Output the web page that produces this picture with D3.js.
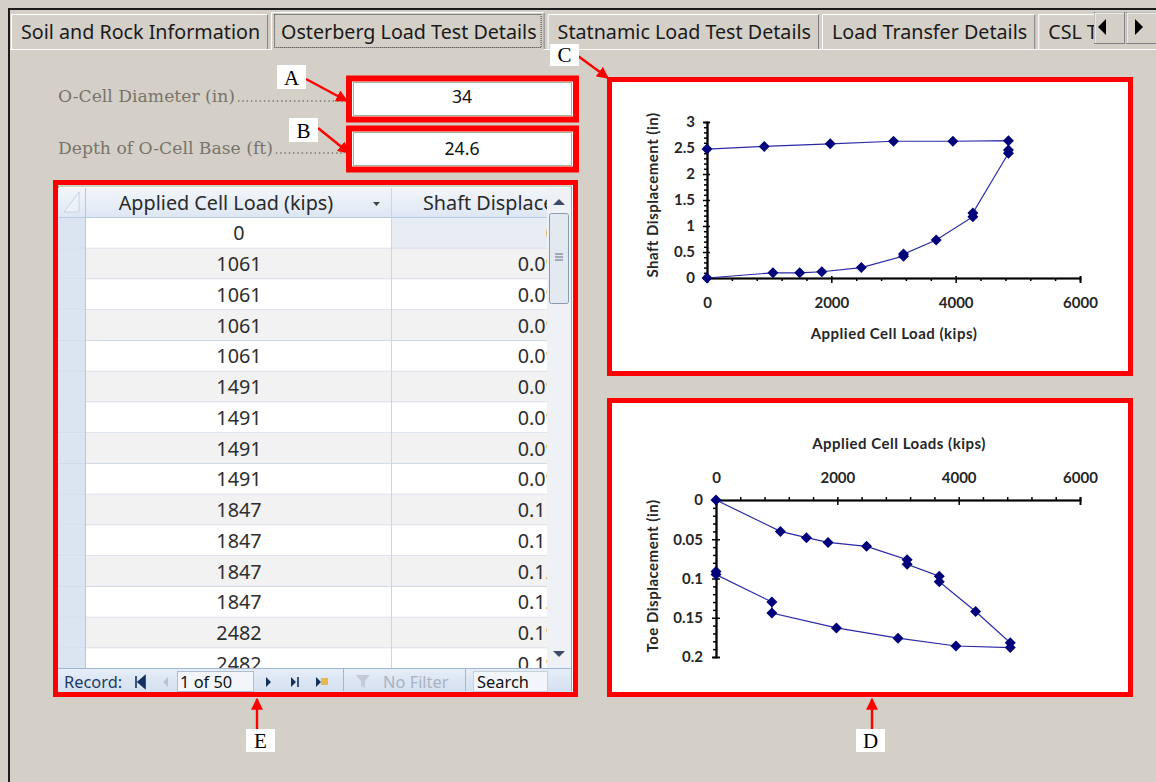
<!DOCTYPE html>
<html><head><meta charset="utf-8">
<script src="https://cdn.jsdelivr.net/npm/d3@7"></script>
<style>body{margin:0;background:#d4d0c8;overflow:hidden} svg{display:block}</style>
</head><body><svg id="c" width="1156" height="782"></svg>
<script>
// ---------- data ----------
const tabLabels = ["Soil and Rock Information", "Osterberg Load Test Details", "Statnamic Load Test Details", "Load Transfer Details", "CSL Test Details"];
const selectedTab = 1;
const formLabels = ["O-Cell Diameter (in)", "Depth of O-Cell Base (ft)"];
const formValues = ["34", "24.6"];
const tableHeaders = ["Applied Cell Load (kips)", "Shaft Displacement (in)"];
const tableLoads = [0, 1061, 1061, 1061, 1061, 1491, 1491, 1491, 1491, 1847, 1847, 1847, 1847, 2482, 2482];
const tableShaft = [0, 0.09, 0.09, 0.09, 0.09, 0.09, 0.09, 0.09, 0.09, 0.11, 0.11, 0.12, 0.12, 0.19, 0.19];
const currentRecord = 1, recordCount = 50;
const calloutLetters = ["A", "B", "C", "D", "E"];

// Shaft displacement vs applied cell load (loading then unloading)
const shaftLoad = [0, 1061, 1491, 1847, 2482, 3161, 3161, 3687, 4277, 4277, 4849, 4849, 4849, 3955, 3000, 1983, 921, 0];
const shaftDisp = [0, 0.10, 0.10, 0.12, 0.20, 0.42, 0.46, 0.73, 1.18, 1.25, 2.40, 2.46, 2.64, 2.63, 2.63, 2.58, 2.53, 2.48];
// Toe displacement vs applied cell load
const toeLoad = [0, 1061, 1491, 1847, 2482, 3150, 3150, 3680, 3680, 4280, 4850, 4850, 3955, 3000, 1985, 921, 921, 0, 0];
const toeDisp = [0, 0.040, 0.048, 0.054, 0.059, 0.076, 0.082, 0.097, 0.104, 0.142, 0.182, 0.188, 0.186, 0.176, 0.163, 0.144, 0.130, 0.095, 0.091];

const loadTicks = [0, 2000, 4000, 6000];
const shaftTicks = [0, 0.5, 1, 1.5, 2, 2.5, 3];
const toeTicks = [0, 0.05, 0.1, 0.15, 0.2];

// ---------- drawing ----------
const svg = d3.select("#c");
const defs = svg.append("defs");
const RED = "#ff0000";
const UI = "Noto Sans";
defs.append("marker").attr("id", "arr").attr("viewBox", "0 0 10 10").attr("refX", 9).attr("refY", 5)
  .attr("markerWidth", 5).attr("markerHeight", 5).attr("orient", "auto-start-reverse").attr("markerUnits", "strokeWidth")
  .append("path").attr("d", "M0,0L10,5L0,10Z").attr("fill", RED);
const hg = defs.append("linearGradient").attr("id", "hdr").attr("x1", 0).attr("x2", 0).attr("y1", 0).attr("y2", 1);
hg.append("stop").attr("offset", 0).attr("stop-color", "#f3f6fb");
hg.append("stop").attr("offset", 1).attr("stop-color", "#dce6f3");
const ng = defs.append("linearGradient").attr("id", "nav").attr("x1", 0).attr("x2", 0).attr("y1", 0).attr("y2", 1);
ng.append("stop").attr("offset", 0).attr("stop-color", "#e6eef8");
ng.append("stop").attr("offset", 1).attr("stop-color", "#d3e0f0");

svg.append("rect").attr("width", 1156).attr("height", 782).attr("fill", "#d4d0c8");
svg.append("line").attr("x1", 8).attr("x2", 1156).attr("y1", 9).attr("y2", 9).attr("stroke", "#1c1c1c").attr("stroke-width", 2);
svg.append("line").attr("x1", 9).attr("x2", 9).attr("y1", 9).attr("y2", 782).attr("stroke", "#1c1c1c").attr("stroke-width", 2);

// tabs
defs.append("clipPath").attr("id", "tabclip").append("rect").attr("x", 0).attr("y", 0).attr("width", 1094).attr("height", 60);
const tabs = svg.append("g").attr("clip-path", "url(#tabclip)");
svg.append("line").attr("x1", 10).attr("x2", 1156).attr("y1", 49.5).attr("y2", 49.5).attr("stroke", "#ffffff");
let tx = 11;
tabLabels.forEach((lab, i) => {
  const g = tabs.append("g");
  const t = g.append("text").attr("x", tx + 10).attr("y", 39).text(lab)
    .attr("font-family", UI).attr("font-size", 19.7).attr("fill", "#1a1a1a");
  const w = t.node().getComputedTextLength() + 18;
  const sel = i === selectedTab;
  const y0 = sel ? 12 : 14;
  g.insert("rect", "text").attr("x", tx).attr("y", y0).attr("width", w).attr("height", 50 - y0).attr("fill", "#d4d0c8");
  g.insert("path", "text").attr("d", `M${tx + 0.5},${50} V${y0 + 0.5} H${tx + w - 1}`).attr("fill", "none").attr("stroke", "#ffffff");
  g.insert("path", "text").attr("d", `M${tx + w - 0.5},${y0 + 1} V${49}`).attr("fill", "none").attr("stroke", "#808080");
  if (sel) {
    g.append("rect").attr("x", tx + 3.5).attr("y", y0 + 2.5).attr("width", w - 7).attr("height", 33)
      .attr("fill", "none").attr("stroke", "#333").attr("stroke-dasharray", "1,1");
    svg.append("line").attr("x1", tx + 1).attr("x2", tx + w - 1).attr("y1", 49.5).attr("y2", 49.5).attr("stroke", "#d4d0c8");
  }
  tx += w + 3;
});
// scroll buttons
[["M1104,19 L1104,35 L1096,27Z", 1094], ["M1137,19 L1137,35 L1145,27Z", 1126]].forEach(([d, x]) => {
  svg.append("rect").attr("x", x + 0.5).attr("y", 12.5).attr("width", 30).attr("height", 31).attr("fill", "#d4d0c8")
    .attr("stroke", "#808080");
  svg.append("path").attr("d", `M${x + 1},43 V13 H${x + 30}`).attr("fill", "none").attr("stroke", "#fff");
  svg.append("path").attr("d", d).attr("transform", `translate(${x === 1094 ? 2 : -2},0)`).attr("fill", "#000");
});

// form fields
const formY = [97, 149];
formLabels.forEach((lab, i) => {
  const t = svg.append("text").attr("x", 58).attr("y", formY[i] + 5).text(lab)
    .attr("font-family", "DejaVu Serif").attr("font-size", 17.2).attr("fill", "#78746a");
  const e = 58 + t.node().getComputedTextLength() + 3;
  svg.append("line").attr("x1", e).attr("x2", 343).attr("y1", formY[i] + 4).attr("y2", formY[i] + 4)
    .attr("stroke", "#78746a").attr("stroke-width", 1.6).attr("stroke-dasharray", "1.4,2.9");
  const by = i === 0 ? 78.5 : 128.5;
  svg.append("rect").attr("x", 349).attr("y", by).attr("width", 227).attr("height", 41)
    .attr("fill", "#fff").attr("stroke", RED).attr("stroke-width", 6);
  svg.append("rect").attr("x", 353.5).attr("y", by + 4).attr("width", 218).attr("height", 33)
    .attr("fill", "#fff").attr("stroke", "#9cb59c").attr("stroke-width", 1);
  svg.append("text").attr("x", 462).attr("y", formY[i] + 6).attr("text-anchor", "middle").text(formValues[i])
    .attr("font-family", UI).attr("font-size", 17.6).attr("fill", "#111");
});

// ---------- table (E) ----------
const T = { x0: 58, x1: 572, top: 188, hdrB: 218, nav: 668, bot: 692, sel: 85, sep: 391, sb: 547 };
const rowH = 30.75;
const TF = 19.8;
svg.append("rect").attr("x", 55.5).attr("y", 182.5).attr("width", 520).attr("height", 512)
  .attr("fill", "#fff").attr("stroke", RED).attr("stroke-width", 5);
svg.append("rect").attr("x", 58.5).attr("y", 186).attr("width", 513).attr("height", 505).attr("fill", "#fff")
  .attr("stroke", "#8fb28f").attr("stroke-width", 1);
defs.append("clipPath").attr("id", "tclip").append("rect").attr("x", T.x0).attr("y", T.top).attr("width", T.sb - T.x0).attr("height", T.nav - T.top);
const tb = svg.append("g").attr("clip-path", "url(#tclip)");
tb.append("rect").attr("x", T.x0).attr("y", T.top).attr("width", 600).attr("height", T.hdrB - T.top).attr("fill", "url(#hdr)");
tb.append("line").attr("x1", T.x0).attr("x2", 600).attr("y1", T.hdrB - 0.5).attr("y2", T.hdrB - 0.5).attr("stroke", "#b9cbe2");
tb.append("path").attr("d", `M${T.sel - 6},${T.top + 4} V${T.hdrB - 6} H${T.x0 + 6}Z`).attr("fill", "#eef2f7").attr("stroke", "#c6d2e2");
const rows = tb.selectAll("g.row").data(tableLoads).join("g").attr("class", "row")
  .attr("transform", (d, i) => `translate(0,${T.hdrB + i * rowH})`);
rows.append("rect").attr("x", T.sel).attr("width", 600).attr("height", rowH)
  .attr("fill", (d, i) => i % 2 ? "#f2f2f2" : "#ffffff");
rows.filter((d, i) => i === currentRecord - 1).append("rect").attr("x", T.sep).attr("width", 300).attr("height", rowH).attr("fill", "#e8ecf3");
rows.append("rect").attr("x", T.x0).attr("width", T.sel - T.x0).attr("height", rowH).attr("fill", "#dbe5f1");
rows.append("line").attr("x1", T.x0).attr("x2", 600).attr("y1", rowH - 0.5).attr("y2", rowH - 0.5).attr("stroke", "#d3dbe7");
rows.append("text").attr("x", 239).attr("y", rowH / 2 + 7).attr("text-anchor", "middle").text(d => d)
  .attr("font-family", UI).attr("font-size", TF).attr("fill", "#2e2e2e");
rows.append("text").attr("x", 557).attr("y", rowH / 2 + 7).attr("text-anchor", "end")
  .text((d, i) => tableShaft[i] === 0 ? "0" : d3.format(".2f")(tableShaft[i]))
  .attr("font-family", UI).attr("font-size", TF).attr("fill", "#2e2e2e");
tb.append("line").attr("x1", T.sep + 0.5).attr("x2", T.sep + 0.5).attr("y1", T.top).attr("y2", T.nav).attr("stroke", "#ccd5e2");
tb.append("line").attr("x1", T.sel + 0.5).attr("x2", T.sel + 0.5).attr("y1", T.top).attr("y2", T.nav).attr("stroke", "#b8c8dc");
tb.append("text").attr("x", 226).attr("y", 210).attr("text-anchor", "middle").text(tableHeaders[0])
  .attr("font-family", UI).attr("font-size", TF).attr("fill", "#2a2a2a");
tb.append("path").attr("d", "M373,202 h7 l-3.5,4Z").attr("fill", "#444");
tb.append("text").attr("x", 423).attr("y", 210).text(tableHeaders[1])
  .attr("font-family", UI).attr("font-size", TF).attr("fill", "#2a2a2a");
// scrollbar
svg.append("rect").attr("x", T.sb).attr("y", T.top).attr("width", 24).attr("height", T.nav - T.top).attr("fill", "#eef1f5");
svg.append("path").attr("d", "M553,205 h12 l-6,-6Z").attr("fill", "#3d4c66");
svg.append("rect").attr("x", 549.5).attr("y", 213.5).attr("width", 19).attr("height", 90).attr("rx", 2)
  .attr("fill", "#e3e9f1").attr("stroke", "#8a9ab2");
[254, 257, 260].forEach(y => svg.append("line").attr("x1", 555).attr("x2", 563).attr("y1", y).attr("y2", y).attr("stroke", "#5a6a80"));
svg.append("path").attr("d", "M553,651 h12 l-6,6Z").attr("fill", "#3d4c66");
// navigation bar
svg.append("rect").attr("x", T.x0).attr("y", T.nav).attr("width", 513).attr("height", T.bot - T.nav).attr("fill", "url(#nav)");
svg.append("line").attr("x1", T.x0).attr("x2", 571).attr("y1", T.nav + 0.5).attr("y2", T.nav + 0.5).attr("stroke", "#9fb6d4");
const navY = 682, NF = 16.4;
svg.append("text").attr("x", 64).attr("y", navY + 6).text("Record:").attr("font-family", UI).attr("font-size", NF).attr("fill", "#1e3a66");
svg.append("path").attr("d", "M136,676v12 M145,676v12l-7,-6Z").attr("stroke", "#14305e").attr("stroke-width", 1.6).attr("fill", "#14305e");
svg.append("path").attr("d", "M168,677v10l-5,-5Z").attr("fill", "#b8c4d6");
svg.append("rect").attr("x", 177.5).attr("y", 671.5).attr("width", 76).attr("height", 20).attr("fill", "#f2f6fb").attr("stroke", "#aebdd3");
svg.append("text").attr("x", 180).attr("y", navY + 6).text(`${currentRecord} of ${recordCount}`).attr("font-family", UI).attr("font-size", NF).attr("fill", "#111");
svg.append("path").attr("d", "M266,677v10l5,-5Z M291,677v10l5,-5Z").attr("fill", "#14305e");
svg.append("path").attr("d", "M298,677v10").attr("stroke", "#14305e").attr("stroke-width", 1.6);
svg.append("path").attr("d", "M316,677v10l5,-5Z").attr("fill", "#14305e");
svg.append("rect").attr("x", 321).attr("y", 678).attr("width", 7).attr("height", 7).attr("fill", "#e8b850");
svg.append("line").attr("x1", 343.5).attr("x2", 343.5).attr("y1", 669).attr("y2", 691).attr("stroke", "#9fb6d4");
svg.append("path").attr("d", "M356,675 h14 l-5,6 v7 l-4,-2 v-5Z").attr("fill", "#c3cbd6");
svg.append("text").attr("x", 383).attr("y", navY + 6).text("No Filter").attr("font-family", UI).attr("font-size", NF).attr("fill", "#a9b2bf");
svg.append("line").attr("x1", 465.5).attr("x2", 465.5).attr("y1", 669).attr("y2", 691).attr("stroke", "#9fb6d4");
svg.append("rect").attr("x", 473.5).attr("y", 671.5).attr("width", 74).attr("height", 20).attr("fill", "#f2f6fb").attr("stroke", "#c4d0e0");
svg.append("text").attr("x", 477).attr("y", navY + 6).text("Search").attr("font-family", UI).attr("font-size", NF).attr("fill", "#111");

// ---------- charts ----------
function chartPanel(y) {
  svg.append("rect").attr("x", 609.5).attr("y", y).attr("width", 521).attr("height", 294)
    .attr("fill", "#fff").attr("stroke", RED).attr("stroke-width", 5);
}
chartPanel(79.5);
chartPanel(400.5);
const diamond = "M0,-5.5L5.5,0L0,5.5L-5.5,0Z";
const FONT = "Lato";
function styleAxis(g) {
  g.select(".domain").attr("stroke", "#000").attr("stroke-width", 1.6);
  g.selectAll(".tick line").attr("stroke", "#000").attr("stroke-width", 1.5);
  g.selectAll("text").attr("font-family", FONT).attr("font-weight", 700).attr("font-size", 15).attr("fill", "#262626");
}
function series(g, x, y, xs, ys) {
  const pts = xs.map((v, i) => [v, ys[i]]);
  g.append("path").datum(pts).attr("fill", "none").attr("stroke", "#2a2aa8").attr("stroke-width", 1.2)
    .attr("d", d3.line().x(d => x(d[0])).y(d => y(d[1])));
  g.selectAll("path.m").data(pts).join("path").attr("class", "m").attr("d", diamond)
    .attr("transform", d => `translate(${x(d[0])},${y(d[1])})`).attr("fill", "#00007a");
}
function minor(step, max, majors) {
  return d3.range(0, max + 1e-9, step).filter(v => !majors.some(m => Math.abs(m - v) < 1e-9));
}
function title(txt, x, y, rot) {
  svg.append("text").attr("transform", `translate(${x},${y})${rot ? " rotate(-90)" : ""}`).attr("text-anchor", "middle").text(txt)
    .attr("font-family", FONT).attr("font-weight", 700).attr("font-size", 15).attr("letter-spacing", 0.5).attr("fill", "#262626");
}

// Chart C: shaft displacement
{
  const x = d3.scaleLinear([0, 6000], [707, 1080]);
  const y = d3.scaleLinear([0, 3], [278, 122]);
  const g = svg.append("g");
  const X0 = 707, Y0 = 278;
  g.append("g").attr("transform", `translate(0,${Y0})`).call(d3.axisBottom(x).tickValues(minor(400, 6000, loadTicks)).tickSize(3).tickFormat("")).call(styleAxis);
  g.append("g").attr("transform", `translate(0,${Y0})`).call(d3.axisTop(x).tickValues(loadTicks).tickSize(2).tickFormat("")).call(styleAxis);
  g.append("g").attr("transform", `translate(0,${Y0})`).call(d3.axisBottom(x).tickValues(loadTicks).tickSize(5).tickPadding(14).tickFormat(d3.format("d"))).call(styleAxis);
  g.append("g").attr("transform", `translate(${X0},0)`).call(d3.axisLeft(y).tickValues(minor(0.1, 3, shaftTicks)).tickSize(3).tickFormat("")).call(styleAxis);
  g.append("g").attr("transform", `translate(${X0},0)`).call(d3.axisRight(y).tickValues(shaftTicks).tickSize(3).tickFormat("")).call(styleAxis);
  g.append("g").attr("transform", `translate(${X0},0)`).call(d3.axisLeft(y).tickValues(shaftTicks).tickSize(4).tickPadding(8).tickFormat(d3.format("~g"))).call(styleAxis);
  series(g, x, y, shaftLoad, shaftDisp);
  title("Applied Cell Load (kips)", 894, 339, false);
  title("Shaft Displacement (in)", 658, 195, true);
}
// Chart D: toe displacement
{
  const x = d3.scaleLinear([0, 6000], [716, 1080]);
  const y = d3.scaleLinear([0, 0.2], [500, 657]);
  const g = svg.append("g");
  const X0 = 716, Y0 = 500;
  g.append("g").attr("transform", `translate(0,${Y0})`).call(d3.axisTop(x).tickValues(minor(400, 6000, loadTicks)).tickSize(3).tickFormat("")).call(styleAxis);
  g.append("g").attr("transform", `translate(0,${Y0})`).call(d3.axisBottom(x).tickValues(loadTicks).tickSize(5).tickFormat("")).call(styleAxis);
  g.append("g").attr("transform", `translate(0,${Y0})`).call(d3.axisTop(x).tickValues(loadTicks).tickSize(3).tickPadding(14).tickFormat(d3.format("d"))).call(styleAxis);
  g.append("g").attr("transform", `translate(${X0},0)`).call(d3.axisLeft(y).tickValues(minor(0.01, 0.2, toeTicks)).tickSize(3).tickFormat("")).call(styleAxis);
  g.append("g").attr("transform", `translate(${X0},0)`).call(d3.axisRight(y).tickValues(toeTicks).tickSize(4).tickFormat("")).call(styleAxis);
  g.append("g").attr("transform", `translate(${X0},0)`).call(d3.axisLeft(y).tickValues(toeTicks).tickSize(4).tickPadding(9).tickFormat(d3.format("~g"))).call(styleAxis);
  series(g, x, y, toeLoad, toeDisp);
  title("Applied Cell Loads (kips)", 899, 449, false);
  title("Toe Displacement (in)", 658, 576, true);
}

// ---------- callouts ----------
const callouts = [
  { box: [277, 65, 29, 24], from: [306, 79], to: [347, 101] },
  { box: [289, 118, 29, 24], from: [318, 128], to: [349, 153] },
  { box: [550, 44, 29, 22], from: [578, 56], to: [608, 78] },
  { box: [856, 729, 29, 23], from: [872, 729], to: [872, 699] },
  { box: [246, 729, 29, 23], from: [257, 729], to: [257, 699] }
];
callouts.forEach((c, i) => {
  svg.append("line").attr("x1", c.from[0]).attr("y1", c.from[1]).attr("x2", c.to[0]).attr("y2", c.to[1])
    .attr("stroke", RED).attr("stroke-width", 2.4).attr("marker-end", "url(#arr)");
  svg.append("rect").attr("x", c.box[0]).attr("y", c.box[1]).attr("width", c.box[2]).attr("height", c.box[3]).attr("fill", "#fff");
  svg.append("text").attr("x", c.box[0] + c.box[2] / 2).attr("y", c.box[1] + c.box[3] - 4).attr("text-anchor", "middle")
    .text(calloutLetters[i]).attr("font-family", "Liberation Serif").attr("font-size", 21).attr("fill", "#000");
});
</script></body></html>
